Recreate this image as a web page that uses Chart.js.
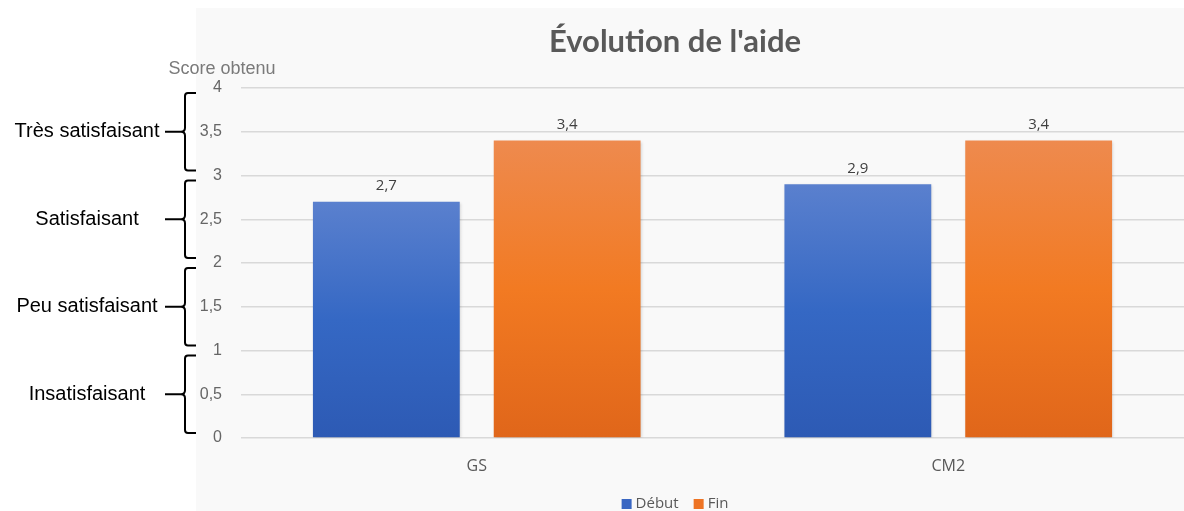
<!DOCTYPE html>
<html lang="fr">
<head>
<meta charset="utf-8">
<title>Évolution de l'aide</title>
<script src="https://cdn.jsdelivr.net/npm/chart.js@4.4.1/dist/chart.umd.min.js"></script>
<style>
  html, body { margin: 0; padding: 0; background: #ffffff; }
  #wrap { width: 1184px; height: 511px; position: relative; }
</style>
</head>
<body>
<div id="wrap"><canvas id="aide"></canvas></div>
<script>
// données
const categories = ["GS", "CM2"];
const seriesNames = ["Début", "Fin"];
const debutValues = [2.7, 2.9];
const finValues = [3.4, 3.4];
const yTicks = [0, 0.5, 1, 1.5, 2, 2.5, 3, 3.5, 4];
const levelLabels = ["Insatisfaisant", "Peu satisfaisant", "Satisfaisant", "Très satisfaisant"];
const levelRanges = [[0, 1], [1, 2], [2, 3], [3, 4]];
const chartTitle = "Évolution de l'aide";
const axisTitle = "Score obtenu";

const blueStops = ["#5a80ce", "#3568c4", "#2d5ab4"];
const orangeStops = ["#ee8a4e", "#f27a22", "#e0661a"];
const legendColors = ["#3a67c2", "#ee7424"];

function fmt(v) {
  return String(v).replace('.', ',');
}

function barGradient(stops) {
  return (context) => {
    const chart = context.chart;
    const { ctx, chartArea, scales } = chart;
    if (!chartArea || context.parsed == null) return stops[1];
    const top = scales.y.getPixelForValue(context.parsed.y);
    const bottom = scales.y.getPixelForValue(0);
    const g = ctx.createLinearGradient(0, top, 0, bottom);
    g.addColorStop(0, stops[0]);
    g.addColorStop(0.5, stops[1]);
    g.addColorStop(1, stops[2]);
    return g;
  };
}

// fond gris clair + titre
const panelPlugin = {
  id: 'panel',
  beforeDraw(chart) {
    const ctx = chart.ctx;
    ctx.save();
    ctx.fillStyle = '#f9f9f9';
    ctx.fillRect(196, 8, chart.width - 196, chart.height - 8);
    ctx.fillStyle = '#595959';
    ctx.font = 'bold 31px Lato, "Open Sans", sans-serif';
    ctx.textAlign = 'center';
    ctx.textBaseline = 'middle';
    ctx.fillText(chartTitle, 675, 42);
    ctx.restore();
  }
};

// légère ombre sous les barres
const barShadow = {
  id: 'barShadow',
  beforeDatasetsDraw(chart) {
    const ctx = chart.ctx;
    ctx.save();
    ctx.shadowColor = 'rgba(0,0,0,0.18)';
    ctx.shadowBlur = 3;
    ctx.shadowOffsetX = 1;
    ctx.shadowOffsetY = 1;
  },
  afterDatasetsDraw(chart) {
    chart.ctx.restore();
  }
};

// valeurs au-dessus des barres
const valueLabels = {
  id: 'valueLabels',
  afterDatasetsDraw(chart) {
    const ctx = chart.ctx;
    ctx.save();
    ctx.font = '15px "Open Sans", sans-serif';
    ctx.fillStyle = '#404040';
    ctx.textAlign = 'center';
    ctx.textBaseline = 'middle';
    chart.data.datasets.forEach((ds, i) => {
      chart.getDatasetMeta(i).data.forEach((bar, j) => {
        ctx.fillText(fmt(ds.data[j]), bar.x, bar.y - 16);
      });
    });
    ctx.restore();
  }
};

// légende en bas
const bottomLegend = {
  id: 'bottomLegend',
  afterDraw(chart) {
    const ctx = chart.ctx;
    ctx.save();
    ctx.font = '15px "Open Sans", sans-serif';
    ctx.textBaseline = 'middle';
    ctx.textAlign = 'left';
    const cy = 504;
    const widths = chart.data.datasets.map(ds => 10 + 4 + ctx.measureText(ds.label).width);
    const gap = 15;
    const total = widths.reduce((a, b) => a + b, 0) + gap * (widths.length - 1);
    let x = 675 - total / 2;
    chart.data.datasets.forEach((ds, i) => {
      ctx.fillStyle = legendColors[i];
      ctx.fillRect(x, cy - 5, 10, 10);
      ctx.fillStyle = '#595959';
      ctx.fillText(ds.label, x + 14, cy);
      x += widths[i] + gap;
    });
    ctx.restore();
  }
};

// titre d'axe et accolades à gauche
const leftNotes = {
  id: 'leftNotes',
  afterDraw(chart) {
    const ctx = chart.ctx;
    const y = chart.scales.y;
    const area = chart.chartArea;
    ctx.save();
    ctx.font = '18px "Liberation Sans", Arial, sans-serif';
    ctx.fillStyle = '#7a7a7a';
    ctx.textAlign = 'center';
    ctx.textBaseline = 'middle';
    ctx.fillText(axisTitle, area.left - 19, y.getPixelForValue(4) - 19);

    ctx.strokeStyle = '#000000';
    ctx.lineWidth = 2;
    ctx.fillStyle = '#000000';
    ctx.font = '20px "Liberation Sans", Arial, sans-serif';
    levelRanges.forEach((r, i) => {
      const top = y.getPixelForValue(r[1]) + 5;
      const bot = y.getPixelForValue(r[0]) - 5;
      const mid = (top + bot) / 2;
      const xv = 185, xr = 196, xt = 181;
      ctx.beginPath();
      ctx.moveTo(xr, top);
      ctx.lineTo(xv + 3, top);
      ctx.quadraticCurveTo(xv, top, xv, top + 3);
      ctx.lineTo(xv, mid - 4);
      ctx.quadraticCurveTo(xv, mid, xt, mid);
      ctx.quadraticCurveTo(xv, mid, xv, mid + 4);
      ctx.lineTo(xv, bot - 3);
      ctx.quadraticCurveTo(xv, bot, xv + 3, bot);
      ctx.lineTo(xr, bot);
      ctx.stroke();
      ctx.beginPath();
      ctx.moveTo(165, mid);
      ctx.lineTo(xt, mid);
      ctx.stroke();
      ctx.fillText(levelLabels[i], 87, mid);
    });
    ctx.restore();
  }
};

new Chart(document.getElementById('aide'), {
  type: 'bar',
  data: {
    labels: categories,
    datasets: [
      { label: seriesNames[0], data: debutValues, backgroundColor: barGradient(blueStops) },
      { label: seriesNames[1], data: finValues, backgroundColor: barGradient(orangeStops) }
    ]
  },
  options: {
    responsive: true,
    maintainAspectRatio: false,
    animation: false,
    categoryPercentage: 0.767,
    barPercentage: 0.812,
    layout: { padding: { left: 0, right: 0, top: 88, bottom: 15 } },
    scales: {
      x: {
        afterFit(scale) { scale.height = 58; },
        grid: { display: false, drawTicks: false },
        border: { display: false },
        ticks: {
          padding: 19,
          color: '#595959',
          font: { family: '"Open Sans", sans-serif', size: 16 }
        }
      },
      y: {
        min: 0,
        max: 4,
        afterFit(scale) { scale.width = 241; },
        afterBuildTicks(scale) { scale.ticks = yTicks.map(v => ({ value: v })); },
        grid: { color: '#d9d9d9', lineWidth: 1.5, drawTicks: false },
        border: { display: false },
        ticks: {
          padding: 19,
          color: '#666666',
          font: { family: '"Liberation Sans", Arial, sans-serif', size: 16 },
          callback: (v) => fmt(v)
        }
      }
    },
    plugins: {
      title: { display: false },
      legend: { display: false },
      tooltip: { enabled: false }
    }
  },
  plugins: [panelPlugin, barShadow, valueLabels, bottomLegend, leftNotes]
});
</script>
</body>
</html>
